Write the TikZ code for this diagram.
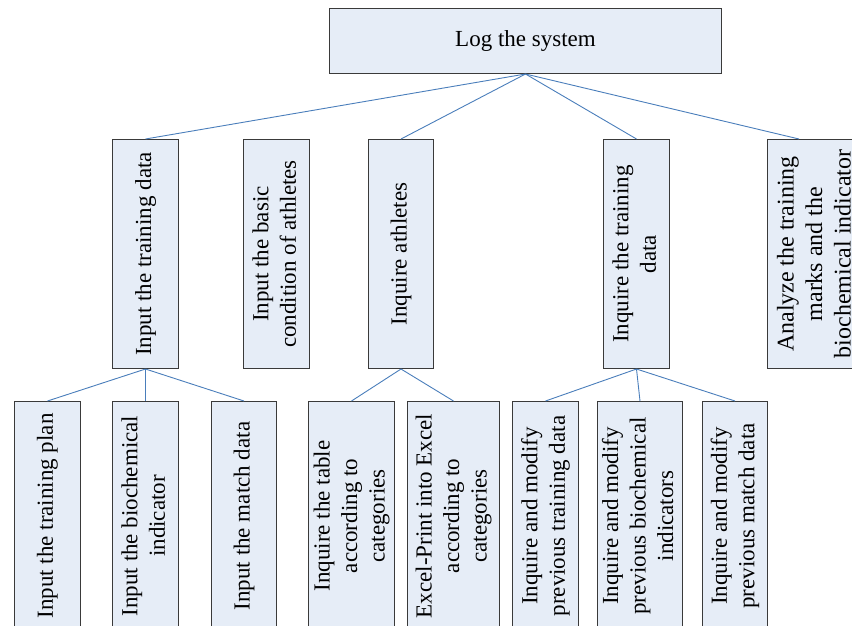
\documentclass[tikz,border=0pt]{standalone}
\usepackage{fontspec}
\setmainfont{Liberation Serif}
\usepackage{graphicx}
\usetikzlibrary{calc}
\definecolor{boxfill}{HTML}{E6EDF7}
\definecolor{boxborder}{HTML}{3A3A3A}
\definecolor{linkblue}{HTML}{4A7EBB}
\newcommand{\vtext}[1]{\rotatebox{90}{\begin{tabular}{@{}c@{}}#1\end{tabular}}}
\begin{document}
\begin{tikzpicture}[x=1pt,y=-1pt,
  box/.style={draw=boxborder, fill=boxfill, line width=1pt, inner sep=0pt,
    anchor=north west, font=\fontsize{23}{27.5}\selectfont},
  link/.style={draw=linkblue, line width=0.9pt}]
\clip (0,0) rectangle (852,625);
% top
\node[box, minimum width=392pt, minimum height=65pt] (log) at (329,8) {Log the system};
% level 2
\node[box, minimum width=66pt, minimum height=229pt] (itd) at (112,139) {\vtext{Input the training data}};
\node[box, minimum width=66pt, minimum height=229pt] (ibc) at (243,139) {\vtext{Input the basic\\condition of athletes}};
\node[box, minimum width=65pt, minimum height=229pt] (ia) at (368,139) {\vtext{Inquire athletes}};
\node[box, minimum width=66pt, minimum height=229pt] (itrd) at (603,139) {\vtext{Inquire the training\\data}};
\node[box, minimum width=98pt, minimum height=229pt, font=\fontsize{24}{28.5}\selectfont] (an) at (767,139) {\vtext{Analyze the training\\marks and the\\biochemical indicator}};
% level 3
\node[box, minimum width=66pt, minimum height=229pt] (itp) at (14,401) {\vtext{Input the training plan}};
\node[box, minimum width=66pt, minimum height=229pt] (ibi) at (112,401) {\vtext{Input the biochemical\\indicator}};
\node[box, minimum width=65pt, minimum height=229pt] (imd) at (211,401) {\vtext{Input the match data}};
\node[box, minimum width=86pt, minimum height=229pt] (itab) at (308,401) {\vtext{Inquire the table\\according to\\categories}};
\node[box, minimum width=92pt, minimum height=229pt] (exc) at (407,401) {\vtext{Excel-Print into Excel\\according to\\categories}};
\node[box, minimum width=66pt, minimum height=229pt] (mtd) at (512,401) {\vtext{Inquire and modify\\previous training data}};
\node[box, minimum width=85pt, minimum height=229pt] (mbi) at (597,401) {\vtext{Inquire and modify\\previous biochemical\\indicators}};
\node[box, minimum width=65pt, minimum height=229pt] (mmd) at (702,401) {\vtext{Inquire and modify\\previous match data}};
% connectors
\draw[link] (log.south) -- (itd.north);
\draw[link] (log.south) -- (ia.north);
\draw[link] (log.south) -- (itrd.north);
\draw[link] (log.south) -- ($(an.north west)+(32,0)$);
\draw[link] (itd.south) -- (itp.north);
\draw[link] (itd.south) -- (ibi.north);
\draw[link] (itd.south) -- (imd.north);
\draw[link] (ia.south) -- (itab.north);
\draw[link] (ia.south) -- (exc.north);
\draw[link] (itrd.south) -- (mtd.north);
\draw[link] (itrd.south) -- (mbi.north);
\draw[link] (itrd.south) -- (mmd.north);
\end{tikzpicture}
\end{document}
